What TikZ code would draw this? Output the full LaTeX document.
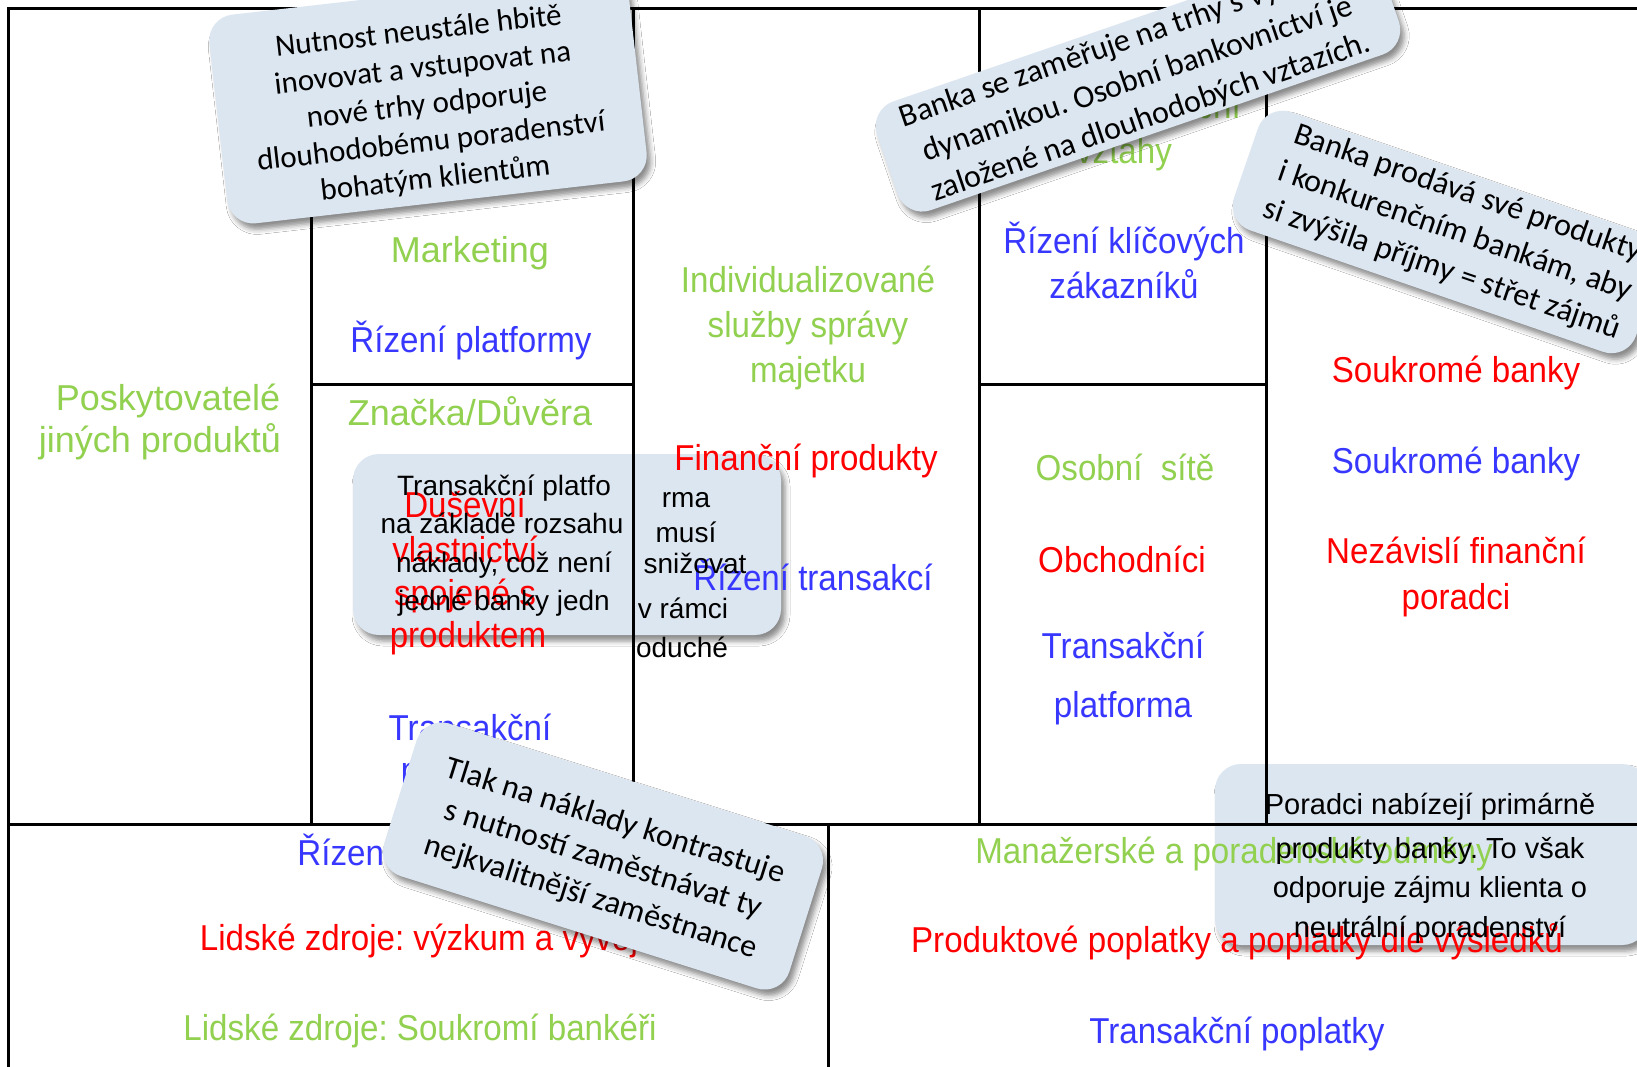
\documentclass[tikz,border=0pt]{standalone}
\usepackage{fontspec}
\usetikzlibrary{shadows.blur}
\newfontfamily\cnarrow[FakeStretch=0.92]{Liberation Sans}
\newfontfamily\cwide{Liberation Sans}
\newfontfamily\notefont{Carlito}
\frenchspacing
\definecolor{bmcgreen}{RGB}{146,208,80}
\definecolor{bmcred}{RGB}{255,0,0}
\definecolor{bmcblue}{RGB}{55,55,255}
\definecolor{notefill}{RGB}{220,230,241}
\tikzset{
  gridline/.style={line width=3pt, black},
  lbl/.style={inner sep=0pt, anchor=base, font=\cnarrow\fontsize{36}{44}\selectfont},
  lblw/.style={inner sep=0pt, anchor=base, font=\cwide\fontsize{36}{44}\selectfont},
  gtext/.style={text=bmcgreen},
  rtext/.style={text=bmcred},
  btext/.style={text=bmcblue},
  notebox/.style={fill=notefill, draw=none, inner sep=0pt, rounded corners=26pt,
    blur shadow={shadow xshift=4pt, shadow yshift=-6pt, shadow blur radius=5pt, shadow opacity=45}},
  notetext/.style={inner sep=0pt, align=center, text=black},
  flattext/.style={inner sep=0pt, anchor=base, text=black, font=\cwide\fontsize{28}{36}\selectfont},
}
\begin{document}
\begin{tikzpicture}[x=1pt, y=-1pt]
\useasboundingbox (0,0) rectangle (1637,1066);
\fill[white] (0,0) rectangle (1637,1066);

% flat notes lying under the canvas lines
\node[notebox, minimum width=428pt, minimum height=181pt] (note4) at (567,544.5) {};
\node[notebox, minimum width=433pt, minimum height=181pt] (note6) at (1431.5,854.5) {};

% canvas grid
\draw[gridline] (8,1090) -- (8,8) -- (1660,8);
\draw[gridline] (311,8) -- (311,824);
\draw[gridline] (633,8) -- (633,824);
\draw[gridline] (979,8) -- (979,824);
\draw[gridline] (1266,8) -- (1266,824);
\draw[gridline] (311,384) -- (633,384);
\draw[gridline] (979,384) -- (1266,384);
\draw[gridline] (8,824) -- (1660,824);
\draw[gridline] (828,824) -- (828,1090);

% key partners
\node[lblw, gtext] (kp1) at (168,410) {Poskytovatelé};
\node[lblw, gtext] (kp2) at (160,452) {jiných produktů};
% key activities
\node[lbl, rtext] (ka1) at (472,178) {Výzkum a vývoj};
\node[lblw, gtext] (ka2) at (470,262) {Marketing};
\node[lbl, btext] (ka3) at (471,352) {Řízení platformy};
% key resources
\node[lblw, gtext] (kr1) at (470,425) {Značka/Důvěra};
\node[lbl, rtext] (kr2) at (465,517) {Duševní};
\node[lbl, rtext] (kr3) at (465,562) {vlastnictví};
\node[lbl, rtext] (kr4) at (465,605) {spojené s};
\node[lbl, rtext] (kr5) at (468,647) {produktem};
\node[lbl, btext] (kr6) at (470,740) {Transakční};
\node[lbl, btext] (kr7) at (470,782) {platforma};
% value propositions
\node[lbl, gtext] (vp1) at (808,292) {Individualizované};
\node[lbl, gtext] (vp2) at (808,337) {služby správy};
\node[lbl, gtext] (vp3) at (808,382) {majetku};
\node[lbl, rtext] (vp4) at (806,470) {Finanční produkty};
\node[lbl, btext] (vp5) at (813,590) {Řízení transakcí};
% customer relationships
\node[lbl, gtext] (cr1) at (1124,118) {Důvěrné osobní};
\node[lbl, gtext] (cr2) at (1124,163) {vztahy};
\node[lbl, btext] (cr3) at (1124,253) {Řízení klíčových};
\node[lbl, btext] (cr4) at (1124,298) {zákazníků};
% channels
\node[lbl, gtext] (ch1) at (1125,480) {Osobní\ \ sítě};
\node[lbl, rtext] (ch2) at (1122,572) {Obchodníci};
\node[lbl, btext] (ch3) at (1123,658) {Transakční};
\node[lbl, btext] (ch4) at (1123,717) {platforma};
% customer segments
\node[lbl, gtext] (cs1) at (1460,232) {Bohatí};
\node[lbl, gtext] (cs2) at (1460,277) {jedinci};
\node[lbl, rtext] (cs3) at (1456,382) {Soukromé banky};
\node[lbl, btext] (cs4) at (1456,473) {Soukromé banky};
\node[lbl, rtext] (cs5) at (1456,563) {Nezávislí finanční};
\node[lbl, rtext] (cs6) at (1456,609) {poradci};
% cost structure
\node[lbl, btext] (co1) at (418,865) {Řízení platformy};
\node[lbl, rtext] (co2) at (419,950) {Lidské zdroje: výzkum a vývoj};
\node[lbl, gtext] (co3) at (420,1040) {Lidské zdroje: Soukromí bankéři};
% revenue streams
\node[lbl, gtext] (re1) at (1234,863) {Manažerské a poradenské odměny};
\node[lbl, rtext] (re2) at (1237,952) {Produktové poplatky a poplatky dle výsledků};
\node[lbl, btext] (re3) at (1237,1043) {Transakční poplatky};

% text of the flat notes
\node[flattext] (n4a) at (504,495) {Transakční platfo};
\node[flattext] (n4b) at (502,533) {na základě rozsahu};
\node[flattext] (n4c) at (504,572) {náklady, což není};
\node[flattext] (n4d) at (504,610) {jedné banky jedn};
\node[flattext] (n4e) at (686,507) {rma};
\node[flattext] (n4f) at (686,542) {musí};
\node[flattext] (n4g) at (695,573) {snižovat};
\node[flattext] (n4h) at (683,618) {v rámci};
\node[flattext] (n4i) at (682,657) {oduché};

\node[flattext, font=\cwide\fontsize{29}{36}\selectfont] (n6a) at (1430,814) {Poradci nabízejí primárně};
\node[flattext, font=\cwide\fontsize{29}{36}\selectfont] (n6b) at (1430,858) {produkty banky. To však};
\node[flattext, font=\cwide\fontsize{29}{36}\selectfont] (n6c) at (1430,897) {odporuje zájmu klienta o};
\node[flattext, font=\cwide\fontsize{29}{36}\selectfont] (n6d) at (1430,937) {neutrální poradenství};

% tilted sticky notes on top
\node[notebox, minimum width=422pt, minimum height=210pt, rotate=6.5] (note1) at (428,98) {};
\node[notetext, rotate=6.5, font=\notefont\fontsize{31}{37}\selectfont] (note1txt) at (427,106)
  {Nutnost neustále hbitě\\inovovat a vstupovat na\\nové trhy odporuje\\dlouhodobému poradenství\\bohatým klientům};

\node[notebox, minimum width=530pt, minimum height=115pt, rotate=19] (note2) at (1138,78) {};
\node[notetext, rotate=19, font=\notefont\fontsize{32}{40}\selectfont] (note2txt) at (1138,80)
  {Banka se zaměřuje na trhy s vysokou\\dynamikou. Osobní bankovnictví je\\založené na dlouhodobých vztazích.};

\node[notebox, minimum width=425pt, minimum height=125pt, rotate=-19] (note3) at (1447,232) {};
\node[notetext, rotate=-19, font=\notefont\fontsize{32}{40}\selectfont] (note3txt) at (1455,232)
  {Banka prodává své produkty\\i konkurenčním bankám, aby\\si zvýšila příjmy = střet zájmů};

\node[notebox, minimum width=425pt, minimum height=160pt, rotate=-17.5] (note5) at (603,856) {};
\node[notetext, rotate=-17.5, font=\notefont\fontsize{32}{40}\selectfont] (note5txt) at (603,860)
  {Tlak na náklady kontrastuje\\s nutností zaměstnávat ty\\nejkvalitnější zaměstnance};
\end{tikzpicture}
\end{document}
